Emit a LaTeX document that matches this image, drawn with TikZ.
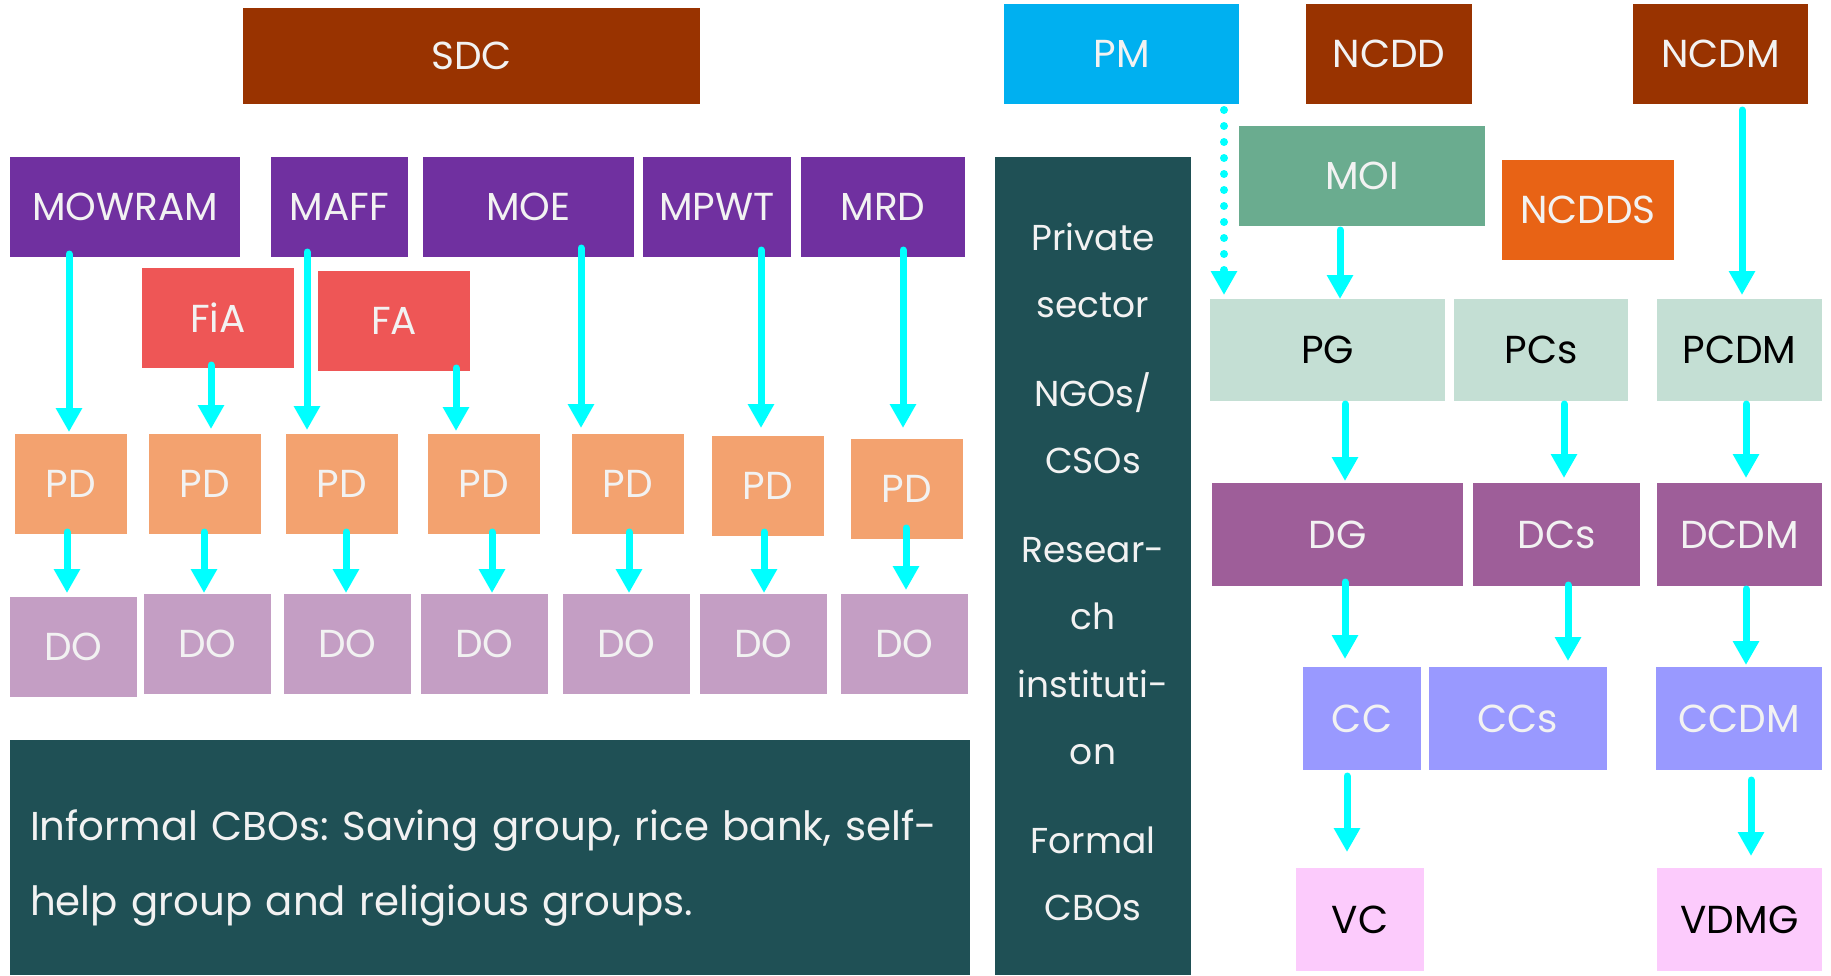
\documentclass[tikz,border=0pt]{standalone}
\usepackage{fontspec}
\setmainfont{Poppins}
\frenchspacing
\usetikzlibrary{arrows.meta}
\definecolor{brn}{HTML}{993300}
\definecolor{pmblue}{HTML}{00B0F0}
\definecolor{minp}{HTML}{7030A0}
\definecolor{red1}{HTML}{EE5656}
\definecolor{pdor}{HTML}{F3A26F}
\definecolor{dopk}{HTML}{C49EC4}
\definecolor{teal1}{HTML}{1F5055}
\definecolor{moig}{HTML}{6AAC8F}
\definecolor{ncdds}{HTML}{E86315}
\definecolor{pgg}{HTML}{C4DFD4}
\definecolor{dgp}{HTML}{9E5E99}
\definecolor{ccb}{HTML}{9999FF}
\definecolor{vcp}{HTML}{FCCBFC}
\definecolor{txt}{HTML}{F2F2F2}
\definecolor{cyanc}{HTML}{00FFFF}
\begin{document}
\begin{tikzpicture}[x=1pt,y=-1pt,
  bx/.style n args={3}{fill=#1, minimum width=#2pt, minimum height=#3pt, inner sep=0pt, outer sep=0pt, text=txt, font=\fontsize{39}{47}\selectfont},
  dark/.style={text=black},
  txtonly/.style={inner sep=0pt, outer sep=0pt, text=txt},
  arr/.style={draw=cyanc, line width=7pt, line cap=round, -{Triangle[length=24pt,width=25pt]}},
  dotarr/.style={draw=cyanc, line width=8pt, line cap=round, dash pattern=on 0pt off 16pt, -{Triangle[length=24pt,width=25pt]}}
]
\useasboundingbox (0,0) rectangle (1831,975);
% top row
\node[bx={brn}{457}{96}] (SDC) at (471.5,56) {SDC};
\node[bx={pmblue}{235}{100}] (PM) at (1121.5,54) {PM};
\node[bx={brn}{166}{100}] (NCDD) at (1389,54) {NCDD};
\node[bx={brn}{175}{100}] (NCDM) at (1720.5,54) {NCDM};
% ministries
\node[bx={minp}{230}{100}] (MOWRAM) at (125,207) {MOWRAM};
\node[bx={minp}{137}{100}] (MAFF) at (339.5,207) {MAFF};
\node[bx={minp}{211}{100}] (MOE) at (528.5,207) {MOE};
\node[bx={minp}{148}{100}] (MPWT) at (717,207) {MPWT};
\node[bx={minp}{164}{100}] (MRD) at (883,207) {MRD};
\node[bx={red1}{152}{100}] (FiA) at (218,318) {FiA};
\node[bx={red1}{152}{100}] (FA) at (394,321) {FA};
% PD
\node[bx={pdor}{112}{100}] (PD1) at (71,484) {PD};
\node[bx={pdor}{112}{100}] (PD2) at (205,484) {PD};
\node[bx={pdor}{112}{100}] (PD3) at (342,484) {PD};
\node[bx={pdor}{112}{100}] (PD4) at (484,484) {PD};
\node[bx={pdor}{112}{100}] (PD5) at (628,484) {PD};
\node[bx={pdor}{112}{100}] (PD6) at (768,486) {PD};
\node[bx={pdor}{112}{100}] (PD7) at (907,489) {PD};
% DO
\node[bx={dopk}{127}{100}] (DO1) at (73.5,647) {DO};
\node[bx={dopk}{127}{100}] (DO2) at (207.5,644) {DO};
\node[bx={dopk}{127}{100}] (DO3) at (347.5,644) {DO};
\node[bx={dopk}{127}{100}] (DO4) at (484.5,644) {DO};
\node[bx={dopk}{127}{100}] (DO5) at (626.5,644) {DO};
\node[bx={dopk}{127}{100}] (DO6) at (763.5,644) {DO};
\node[bx={dopk}{127}{100}] (DO7) at (904.5,644) {DO};
% informal
\node[bx={teal1}{960}{235}] (INF) at (490,857.5) {};
\node[txtonly, align=left, text width=920pt, font=\fontsize{40.3}{75}\selectfont] (INFt) at (490,868)
  {Informal CBOs: Saving group, rice bank, self-\\help group and religious groups.};
% side
\node[bx={teal1}{196}{818}] (SIDE) at (1093,566) {};
\node[txtonly, align=center, font=\fontsize{36}{67.5}\selectfont] (SIDEt) at (1093,572)
  {Private\\sector\\[21pt]NGOs/\\CSOs\\[21pt]Resear-\\ch\\instituti-\\on\\[21pt]Formal\\CBOs};
% right
\node[bx={moig}{246}{100}] (MOI) at (1362,176) {MOI};
\node[bx={ncdds}{172}{100}] (NCDDS) at (1588,210) {NCDDS};
\node[bx={pgg}{235}{102}, dark] (PG) at (1327.5,350) {PG};
\node[bx={pgg}{174}{102}, dark] (PCs) at (1541,350) {PCs};
\node[bx={pgg}{165}{102}, dark] (PCDM) at (1739.5,350) {PCDM};
\node[bx={dgp}{251}{103}] (DG) at (1337.5,534.5) {DG};
\node[bx={dgp}{167}{103}] (DCs) at (1556.5,534.5) {DCs};
\node[bx={dgp}{165}{103}] (DCDM) at (1739.5,534.5) {DCDM};
\node[bx={ccb}{118}{103}] (CC) at (1362,718.5) {CC};
\node[bx={ccb}{178}{103}] (CCs) at (1518,718.5) {CCs};
\node[bx={ccb}{166}{103}] (CCDM) at (1739,718.5) {CCDM};
\node[bx={vcp}{128}{103}, dark] (VC) at (1360,919.5) {VC};
\node[bx={vcp}{165}{103}, dark] (VDMG) at (1739.5,919.5) {VDMG};
% left arrows
\draw[arr] ([xshift=-56pt,yshift=3pt]MOWRAM.south) -- ([xshift=-2pt,yshift=2pt]PD1.north);
\draw[arr] ([xshift=-7pt,yshift=3pt]FiA.south) -- ([xshift=6pt,yshift=5pt]PD2.north);
\draw[arr] ([xshift=-32.5pt,yshift=5pt]MAFF.south) -- ([xshift=-35pt,yshift=4pt]PD3.north);
\draw[arr] ([xshift=62pt,yshift=3pt]FA.south) -- ([xshift=-28pt,yshift=3pt]PD4.north);
\draw[arr] ([xshift=52.5pt,yshift=9pt]MOE.south) -- ([xshift=-47pt,yshift=6pt]PD5.north);
\draw[arr] ([xshift=44pt,yshift=7pt]MPWT.south) -- ([xshift=-7pt,yshift=8pt]PD6.north);
\draw[arr] ([xshift=20pt,yshift=7pt]MRD.south) -- ([xshift=-4pt,yshift=11pt]PD7.north);
\draw[arr] ([xshift=-4pt,yshift=2pt]PD1.south) -- ([xshift=-6.5pt,yshift=4pt]DO1.north);
\draw[arr] ([xshift=-1pt,yshift=2pt]PD2.south) -- ([xshift=-3.5pt,yshift=1pt]DO2.north);
\draw[arr] ([xshift=4pt,yshift=2pt]PD3.south) -- ([xshift=-1.5pt,yshift=1pt]DO3.north);
\draw[arr] ([xshift=8pt,yshift=2pt]PD4.south) -- ([xshift=7.5pt,yshift=1pt]DO4.north);
\draw[arr] ([xshift=1pt,yshift=2pt]PD5.south) -- ([xshift=2.5pt,yshift=1pt]DO5.north);
\draw[arr] ([xshift=-4pt,yshift=4pt]PD6.south) -- ([xshift=0.5pt,yshift=1pt]DO6.north);
\draw[arr] ([xshift=-1pt,yshift=11pt]PD7.south) -- ([xshift=1.5pt,yshift=4pt]DO7.north);
% right arrows
\draw[dotarr] ([xshift=102.5pt,yshift=-6pt]PM.south) -- ([xshift=-103.5pt,yshift=4pt]PG.north);
\draw[arr] ([xshift=-22pt,yshift=-4pt]MOI.south) -- ([xshift=12.5pt]PG.north);
\draw[arr] ([xshift=21.5pt,yshift=-6pt]NCDM.south) -- ([xshift=2.5pt,yshift=4pt]PCDM.north);
\draw[arr] ([xshift=17.5pt,yshift=-3pt]PG.south) -- ([xshift=7.5pt,yshift=2pt]DG.north);
\draw[arr] ([xshift=23pt,yshift=-3pt]PCs.south) -- ([xshift=7.5pt,yshift=5pt]DCs.north);
\draw[arr] ([xshift=6.5pt,yshift=-3pt]PCDM.south) -- ([xshift=6.5pt,yshift=5pt]DCDM.north);
\draw[arr] ([xshift=7.5pt,yshift=4pt]DG.south) -- ([xshift=-17pt,yshift=8pt]CC.north);
\draw[arr] ([xshift=11.5pt,yshift=1pt]DCs.south) -- ([xshift=50pt,yshift=6pt]CCs.north);
\draw[arr] ([xshift=6.5pt,yshift=-3pt]DCDM.south) -- ([xshift=7pt,yshift=2pt]CCDM.north);
\draw[arr] ([xshift=-15pt,yshift=-6pt]CC.south) -- ([xshift=-13pt,yshift=16pt]VC.north);
\draw[arr] ([xshift=12pt,yshift=-10pt]CCDM.south) -- ([xshift=11.5pt,yshift=12pt]VDMG.north);
\end{tikzpicture}
\end{document}
